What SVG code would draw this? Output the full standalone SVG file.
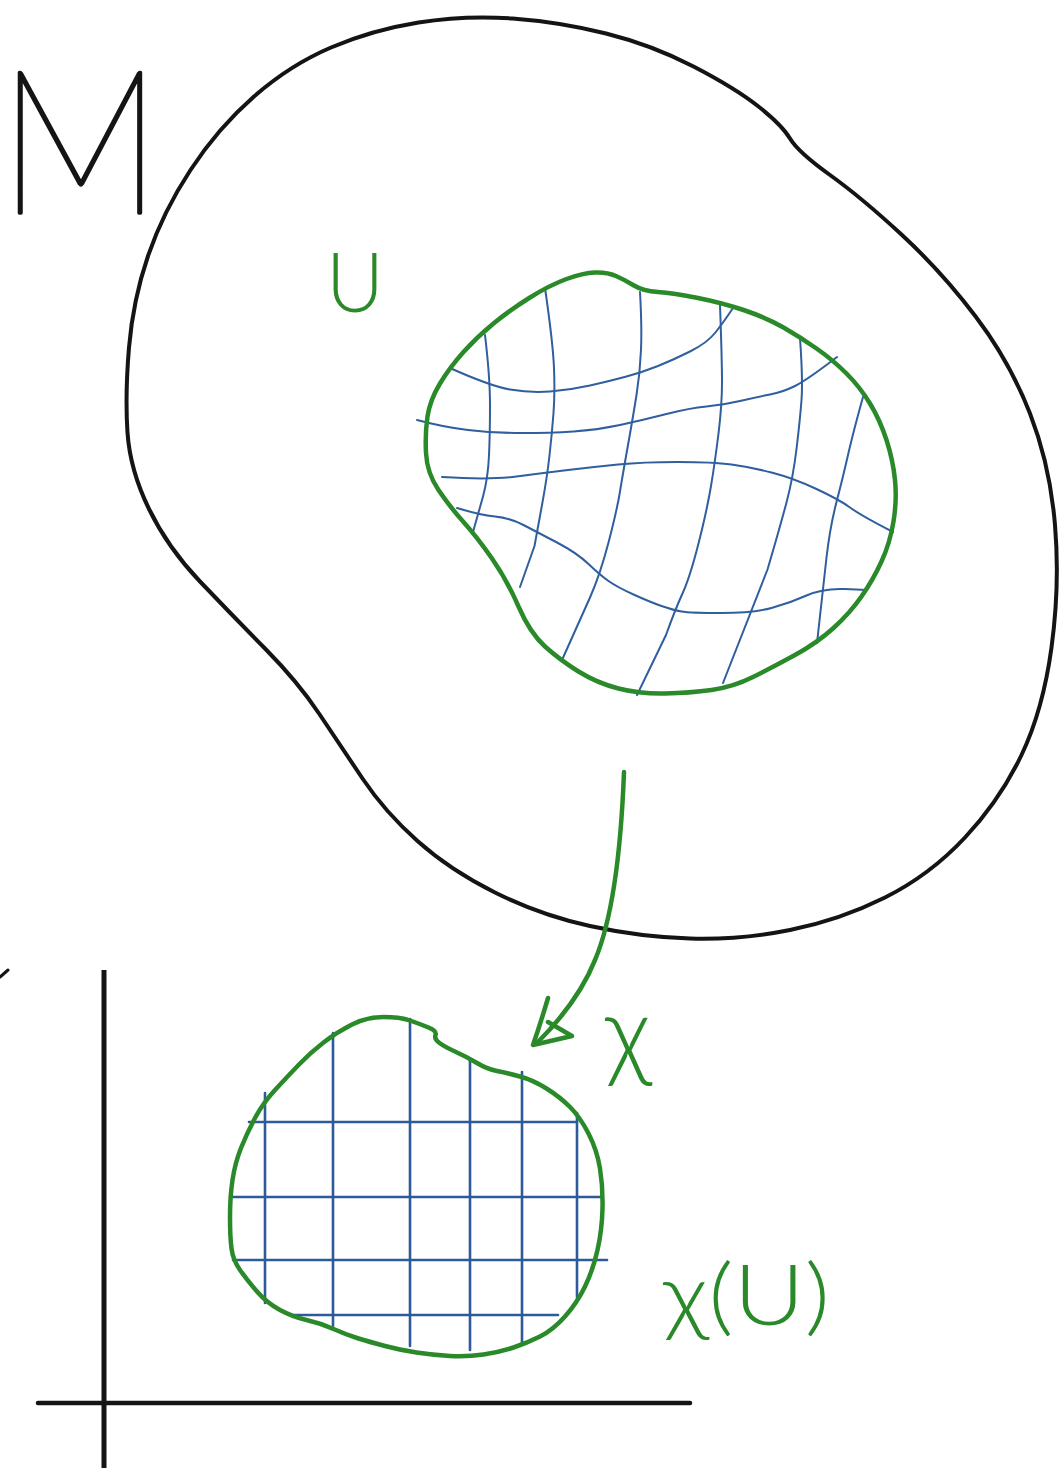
<svg xmlns="http://www.w3.org/2000/svg" width="1062" height="1468" viewBox="0 0 1062 1468">
<style>
.blk{fill:none;stroke:#141414;stroke-width:4;stroke-linecap:round;stroke-linejoin:round}
.grn{fill:none;stroke:#2a8a2a;stroke-width:4.5;stroke-linecap:round;stroke-linejoin:round}
.blu{fill:none;stroke:#2f5f9e;stroke-width:2;stroke-linecap:round;stroke-linejoin:round}
.blu2{fill:none;stroke:#2c5a9a;stroke-width:2.6;stroke-linecap:round}
.lbl{font-family:Lato,Roboto,"Open Sans",sans-serif;font-weight:300}
</style>
<rect width="1062" height="1468" fill="#ffffff"/>

<g id="manifold-M">
<path class="blk" d="M127.5,432.5 Q125,395 129,347.5 Q133,300 148,256 Q163,212 190.5,170 Q218,128 254,96.5 Q290,65 331,47.5 Q372,30 418.5,22.5 Q465,15 512.5,18.5 Q560,22 606,33.5 Q652,45 693.5,66.5 Q735,88 758.5,106.5 Q782,125 790,138.5 Q798,152 830,175 Q862,198 902,235 Q942,272 976,317 Q1010,362 1030,413.5 Q1050,465 1055,525 Q1060,585 1051.5,647.5 Q1043,710 1021.5,755 Q1000,800 965,837.5 Q930,875 885,897.5 Q840,920 790,930 Q740,940 690,938.5 Q640,937 590,926 Q540,915 495,892.5 Q450,870 417.5,841 Q385,812 362.5,778.5 Q340,745 319,713.5 Q298,682 265,648.5 Q232,615 200,581.5 Q168,548 149,509 Q130,470 127.5,432.5 Z"/>
</g>

<g id="region-U">
<g id="U-grid">
<path class="blu" d="M450,368 Q490,386 510,389.5 Q530,393 550,391.5 Q570,390 590,385.5 Q610,381 626.5,376.5 Q643,372 658,366 Q673,360 690,351.5 Q707,343 715,333 Q723,323 733,308"/>
<path class="blu" d="M417,420 Q443,427 468,430 Q493,433 521.5,433 Q550,433 573.5,431.5 Q597,430 620,425 Q643,420 666.5,414 Q690,408 706.5,406.5 Q723,405 740,401 Q757,397 770,394.5 Q783,392 795,386 Q807,380 837,357"/>
<path class="blu" d="M442,477 Q490,480 516.5,476.5 Q543,473 568,470 Q593,467 618,464.5 Q643,462 678,462 Q713,462 731.5,464.5 Q750,467 771.5,472.5 Q793,478 816.5,489 Q840,500 850,507.5 Q860,515 893,532"/>
<path class="blu" d="M457,508 Q480,515 495,516.5 Q510,518 523.5,525 Q537,532 557,542.5 Q577,553 588.5,564 Q600,575 608.5,581 Q617,587 633.5,594.5 Q650,602 661.5,606 Q673,610 681.5,611.5 Q690,613 721.5,613 Q753,613 771.5,608 Q790,603 806.5,595.5 Q823,588 845,589 L867,590"/>
<path class="blu" d="M485,335 Q490,377 490,405 Q490,433 489,455.5 Q488,478 483,496.5 L473,532"/>
<path class="blu" d="M545,288 Q553,343 554,368 Q555,393 553.5,413 Q552,433 549.5,455.5 Q547,478 542,505 Q537,532 534.5,546 L520,587"/>
<path class="blu" d="M640,292 Q642,327 641,350 Q640,373 636.5,395 Q633,417 628,445 Q623,473 620,491.5 Q617,510 608.5,542.5 Q600,575 590,597.5 L562,660"/>
<path class="blu" d="M720,305 Q722,360 722,382.5 Q722,405 718.5,433.5 Q715,462 711,486 Q707,510 698.5,543.5 Q690,577 682.5,593.5 Q675,610 666,635 L637,695"/>
<path class="blu" d="M800,338 Q803,380 801.5,400 Q800,420 796.5,449 Q793,478 786.5,502.5 Q780,527 767.5,569.5 L723,683"/>
<path class="blu" d="M863,397 Q853,433 848,455 Q843,477 836.5,502 Q830,527 826.5,557.5 L817,643"/>
</g>
<path class="grn" d="M438.5,490 Q427,473 426,453 Q425,433 427.5,416.5 Q430,400 440,383.5 Q450,367 463.5,352 Q477,337 493.5,323.5 Q510,310 530,297.5 Q550,285 566.5,279 Q583,273 595,272.5 Q607,272 616,276 Q625,280 634,285.5 Q643,291 658,292 Q673,293 698,298 Q723,303 745,310.5 Q767,318 783.5,327.5 Q800,337 816.5,348.5 Q833,360 846.5,373.5 Q860,387 870,403.5 Q880,420 886.5,440 Q893,460 895,480 Q897,500 893.5,521.5 Q890,543 881.5,561.5 Q873,580 861.5,596.5 Q850,613 833.5,628 Q817,643 795,655 Q773,667 753,677 Q733,687 711.5,690 Q690,693 665,693.5 Q640,694 618.5,688.5 Q597,683 578.5,671.5 Q560,660 545,646.5 Q530,633 518.5,606.5 Q507,580 492,558.5 Q477,537 463.5,522 Q450,507 438.5,490 Z"/>
</g>

<g id="connectors">
<path class="grn" d="M624,772 C621,850 612,920 595,960 C583,990 565,1015 537,1043"/>
<path class="grn" d="M548,998 Q540,1025 533,1045 L572,1036 L548,1022"/>
</g>

<g id="axes">
<path class="blk" style="stroke-width:5;stroke-linecap:butt" d="M104,970 L104,1468"/>
<path class="blk" style="stroke-width:4.5" d="M38,1403 L690,1403"/>
</g>

<g id="region-xU">
<g id="xU-grid">
<path class="blu2" d="M265,1093 L265,1303"/>
<path class="blu2" d="M333,1033 L333,1326"/>
<path class="blu2" d="M410,1019 L410,1346"/>
<path class="blu2" d="M470,1059 L470,1350"/>
<path class="blu2" d="M522,1072 L522,1343"/>
<path class="blu2" d="M577,1113 L577,1297"/>
<path class="blu2" d="M249,1122 L577,1122"/>
<path class="blu2" d="M230,1197 L602,1197"/>
<path class="blu2" d="M233,1260 L607,1260"/>
<path class="blu2" d="M292,1315 L558,1315"/>
</g>
<path class="grn" d="M352,1024.5 Q367,1017 383.5,1017 Q400,1017 410,1020.5 Q420,1024 428.5,1027.5 Q437,1031 435.5,1035 Q434,1039 439.5,1043 Q445,1047 456,1052 Q467,1057 477,1063 Q487,1069 497,1071 Q507,1073 520,1076.5 Q533,1080 546.5,1088.5 Q560,1097 570,1107 Q580,1117 588.5,1133.5 Q597,1150 600,1168.5 Q603,1187 602.5,1208.5 Q602,1230 597.5,1250 Q593,1270 585,1286.5 Q577,1303 565,1316.5 Q553,1330 540,1336.5 Q527,1343 513.5,1347.5 Q500,1352 483.5,1354.5 Q467,1357 450,1356 Q433,1355 416.5,1352.5 Q400,1350 385,1346 Q370,1342 358.5,1338.5 Q347,1335 333.5,1329 Q320,1323 306.5,1320 Q293,1317 280,1310 Q267,1303 257,1291.5 Q247,1280 240,1270 Q233,1260 231.5,1248.5 Q230,1237 230,1217 Q230,1197 232.5,1180 Q235,1163 241,1148 Q247,1133 255,1118 Q263,1103 275,1090 Q287,1077 298.5,1065 Q310,1053 323.5,1042.5 Q337,1032 352,1024.5 Z"/>
</g>

<g id="labels">
<text class="lbl" x="-2" y="213" font-size="200" fill="#141414" stroke="#141414" stroke-width="3.5" stroke-linejoin="round" style="font-weight:100" textLength="164" lengthAdjust="spacingAndGlyphs">M</text>
<text class="lbl" x="326" y="312" font-size="83" fill="#2a8a2a" textLength="58" lengthAdjust="spacingAndGlyphs">U</text>
<text class="lbl" x="605" y="1068" font-size="100" fill="#2a8a2a">χ</text>
<text class="lbl" x="663" y="1325" font-size="84" fill="#2a8a2a" textLength="167" lengthAdjust="spacingAndGlyphs">χ(U)</text>
<path class="blk" style="stroke-width:3" d="M0,977 L8,970"/>
</g>
</svg>
